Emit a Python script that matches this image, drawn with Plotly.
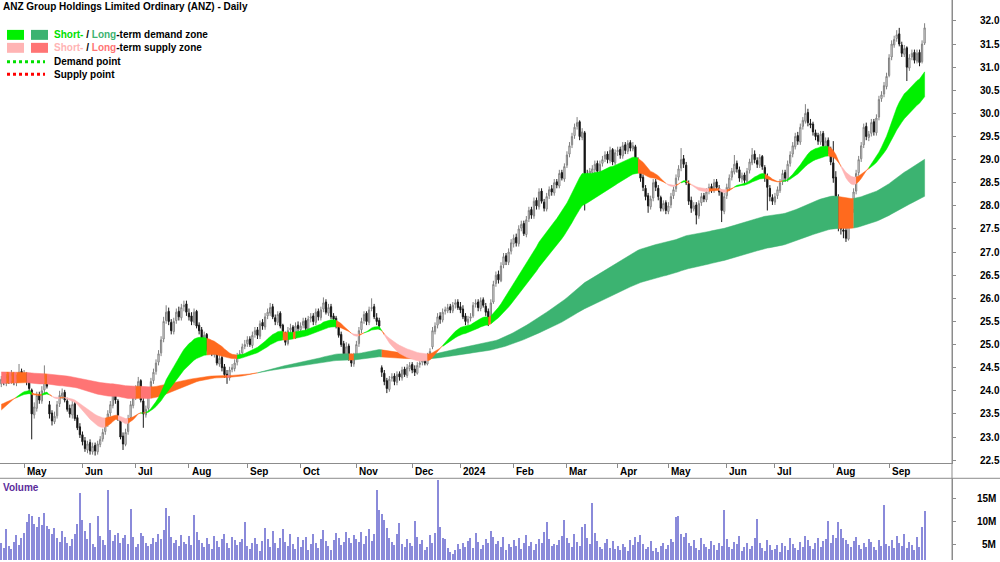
import numpy as np
import pandas as pd
import plotly.graph_objects as go

# ---------------- data ----------------
HOLIDAYS = ["2023-04-25", "2023-06-12", "2023-12-25", "2023-12-26", "2024-01-01",
            "2024-01-26", "2024-03-29", "2024-04-01", "2024-04-25", "2024-06-10"]

OPEN = [
    24.15, 24.26, 24.16, 24.32, 24.20, 24.36, 24.18, 24.27, 24.42,
    24.28, 24.36, 24.18, 24.02, 23.48, 23.62, 23.92, 23.78, 24.02, 24.32, 23.70, 23.52, 23.33, 23.46, 23.72, 23.88, 23.97, 23.78, 23.62, 23.48, 23.72, 23.42, 23.22,
    23.05, 22.92, 22.72, 22.88, 22.68, 22.82, 22.68, 22.84, 22.96, 23.12, 23.28, 23.52, 23.68, 23.96, 23.78, 23.38, 23.02, 22.84, 23.12, 23.42, 23.68,
    23.86, 24.04, 24.22, 23.78, 23.48, 23.62, 23.92, 24.22, 24.42, 24.62, 24.82, 25.12, 25.52, 25.72, 25.48, 25.28, 25.52, 25.72, 25.58, 25.82, 25.88,
    25.68, 25.62, 25.48, 25.72, 25.42, 25.32, 25.08, 25.22, 24.88, 25.02, 24.78, 24.86, 24.58, 24.72, 24.52, 24.36, 24.28, 24.46, 24.48, 24.62, 24.76, 24.82, 24.96,
    25.02, 25.12, 24.98, 25.22, 25.32, 25.18, 25.48, 25.38, 25.62, 25.68, 25.82, 25.58, 25.48, 25.68, 25.42, 25.22, 25.02, 25.32, 25.38, 25.18, 25.42,
    25.32, 25.42, 25.52, 25.33, 25.57, 25.62, 25.48, 25.72, 25.58, 25.77, 25.92, 25.68, 25.82, 25.62, 25.57, 25.42, 25.22, 25.02, 24.78, 24.97, 24.72, 24.58,
    24.78, 25.02, 25.32, 25.52, 25.68, 25.48, 25.78, 25.82, 25.58, 25.52, 24.50, 24.38, 24.22, 24.03, 24.27, 24.32, 24.18, 24.37, 24.28, 24.47, 24.33, 24.48,
    24.57, 24.47, 24.38, 24.57, 24.62, 24.67, 24.58, 24.77, 24.95, 25.28, 25.42, 25.62, 25.53, 25.72, 25.73, 25.82, 25.73, 25.87, 25.92,
    25.82, 25.77, 25.62, 25.48, 25.57, 25.62, 25.87, 25.92, 25.78, 25.97, 25.83, 25.72, 25.52, 25.92, 26.32, 26.52, 26.38, 26.72, 26.92, 26.78, 27.02,
    27.18, 27.32, 27.18, 27.52, 27.62, 27.38, 27.72, 27.92, 27.78, 28.12, 27.98, 28.32, 28.08, 27.93, 28.22, 28.37, 28.28, 28.52, 28.43, 28.72, 28.58,
    28.88, 29.12, 29.32, 29.52, 29.72, 29.82, 29.48, 29.58, 28.68, 28.58, 28.72, 28.78, 28.92, 28.73, 28.92, 29.02, 29.12, 28.98, 29.22, 28.93,
    29.17, 29.22, 29.08, 29.32, 29.18, 29.37, 29.23, 29.28, 28.98, 28.83, 28.62, 28.38, 28.22, 27.98, 28.17, 28.52, 28.38, 28.18, 27.93, 28.07,
    27.88, 28.02, 28.22, 28.37, 28.62, 28.82, 29.02, 28.88, 28.48, 28.12, 27.93, 28.02, 27.78, 28.07, 28.22, 28.13, 28.32, 28.42, 28.33, 28.52, 28.38, 28.32, 27.88,
    28.22, 28.38, 28.62, 28.73, 28.92, 28.78, 28.58, 28.67, 28.53, 28.77, 28.93, 29.12, 28.98, 28.88, 29.07, 28.83, 28.62, 28.38, 28.18,
    28.08, 28.22, 28.33, 28.52, 28.72, 28.58, 28.92, 29.12, 29.28, 29.52, 29.38, 29.72, 29.83, 30.02, 29.78, 29.77, 29.58, 29.52, 29.38, 29.57, 29.28, 29.42, 29.22,
    28.93, 28.62, 28.18, 27.62, 27.48, 27.47, 27.28, 27.72, 27.92, 28.32, 28.72, 29.02, 29.32, 29.72, 29.48, 29.57, 29.82, 29.58, 29.92, 30.32, 30.42, 30.58,
    30.82, 31.22, 31.48, 31.62, 31.72, 31.48, 31.28, 31.42, 30.98, 31.22, 31.32, 31.13, 31.32, 31.12, 31.52,
]
HIGH = [
    24.32, 24.30, 24.36, 24.38, 24.45, 24.40, 24.35, 24.58, 24.48,
    24.45, 24.40, 24.25, 24.05, 23.75, 23.98, 23.98, 24.10, 24.55, 24.35, 23.78, 23.58, 23.55, 23.78, 24.00, 24.05, 24.02, 23.85, 23.70, 23.80, 23.78, 23.48, 23.30,
    23.12, 23.00, 22.92, 22.95, 22.88, 22.88, 22.92, 23.02, 23.18, 23.38, 23.58, 23.78, 24.05, 24.02, 23.82, 23.42, 23.10, 23.18, 23.48, 23.78, 23.95,
    24.12, 24.30, 24.25, 23.85, 23.68, 23.98, 24.28, 24.48, 24.68, 24.88, 25.18, 25.60, 25.85, 25.80, 25.55, 25.58, 25.78, 25.82, 25.88, 25.95, 25.95,
    25.78, 25.70, 25.78, 25.75, 25.48, 25.38, 25.28, 25.25, 25.08, 25.05, 24.95, 24.90, 24.78, 24.78, 24.58, 24.45, 24.52, 24.58, 24.68, 24.82, 24.88, 25.02, 25.10,
    25.18, 25.18, 25.28, 25.38, 25.38, 25.52, 25.55, 25.68, 25.78, 25.90, 25.88, 25.65, 25.72, 25.72, 25.45, 25.28, 25.38, 25.45, 25.42, 25.48, 25.50,
    25.48, 25.58, 25.58, 25.62, 25.68, 25.68, 25.78, 25.78, 25.82, 26.02, 25.98, 25.88, 25.88, 25.68, 25.62, 25.48, 25.28, 25.08, 25.05, 25.02, 24.80, 24.82,
    25.08, 25.38, 25.58, 25.72, 25.72, 25.82, 26.00, 25.88, 25.68, 25.58, 24.55, 24.45, 24.28, 24.32, 24.38, 24.38, 24.42, 24.42, 24.52, 24.52, 24.58, 24.62,
    24.62, 24.55, 24.62, 24.68, 24.72, 24.72, 24.82, 24.92, 25.38, 25.48, 25.68, 25.70, 25.78, 25.82, 25.88, 25.88, 25.92, 25.98, 25.98,
    25.92, 25.85, 25.68, 25.62, 25.68, 25.92, 25.98, 25.98, 26.02, 26.02, 25.90, 25.78, 25.98, 26.38, 26.58, 26.60, 26.78, 26.98, 26.98, 27.08, 27.28,
    27.38, 27.40, 27.58, 27.68, 27.68, 27.78, 27.98, 27.98, 28.18, 28.18, 28.38, 28.38, 28.15, 28.28, 28.42, 28.45, 28.58, 28.58, 28.78, 28.78, 28.92,
    29.18, 29.38, 29.58, 29.78, 29.92, 29.85, 29.68, 29.62, 28.78, 28.82, 28.88, 28.98, 28.98, 28.98, 29.08, 29.18, 29.18, 29.28, 29.25, 29.22,
    29.28, 29.28, 29.38, 29.38, 29.42, 29.42, 29.38, 29.32, 29.05, 28.90, 28.68, 28.45, 28.28, 28.22, 28.58, 28.58, 28.45, 28.22, 28.12, 28.12,
    28.08, 28.28, 28.42, 28.68, 28.88, 29.25, 29.10, 28.95, 28.55, 28.20, 28.08, 28.08, 28.12, 28.28, 28.28, 28.38, 28.48, 28.48, 28.58, 28.58, 28.45, 28.35, 28.28,
    28.48, 28.68, 28.82, 29.10, 28.98, 28.85, 28.72, 28.72, 28.82, 29.02, 29.25, 29.20, 29.05, 29.12, 29.10, 28.88, 28.70, 28.45, 28.25,
    28.28, 28.42, 28.58, 28.78, 28.78, 28.98, 29.18, 29.38, 29.58, 29.60, 29.78, 29.92, 30.20, 30.10, 29.88, 29.82, 29.65, 29.58, 29.62, 29.62, 29.48, 29.48, 29.28,
    29.40, 28.75, 28.25, 27.85, 27.62, 27.55, 27.78, 27.98, 28.38, 28.78, 29.08, 29.38, 29.78, 29.80, 29.62, 29.88, 29.88, 29.98, 30.38, 30.48, 30.68, 30.88,
    31.28, 31.58, 31.68, 31.80, 31.85, 31.55, 31.48, 31.45, 31.28, 31.38, 31.38, 31.38, 31.38, 31.58, 31.95,
]
LOW = [
    24.08, 24.12, 24.10, 24.15, 24.15, 24.12, 24.10, 24.22, 24.22,
    24.20, 24.12, 23.98, 22.95, 23.40, 23.55, 23.72, 23.72, 23.95, 24.05, 23.40, 23.25, 23.28, 23.40, 23.65, 23.82, 23.75, 23.55, 23.42, 23.40, 23.35, 23.15, 22.98,
    22.82, 22.68, 22.65, 22.62, 22.62, 22.60, 22.62, 22.78, 22.90, 23.05, 23.22, 23.45, 23.62, 23.72, 23.35, 22.95, 22.72, 22.80, 23.05, 23.35, 23.62,
    23.80, 23.98, 23.75, 23.20, 23.42, 23.55, 23.85, 24.15, 24.35, 24.55, 24.75, 25.05, 25.45, 25.42, 25.22, 25.22, 25.45, 25.52, 25.52, 25.72, 25.62,
    25.52, 25.42, 25.42, 25.35, 25.22, 25.02, 25.02, 24.85, 24.82, 24.75, 24.72, 24.55, 24.52, 24.42, 24.28, 24.15, 24.22, 24.40, 24.42, 24.55, 24.70, 24.75, 24.90,
    24.95, 24.95, 24.92, 25.15, 25.12, 25.12, 25.32, 25.32, 25.55, 25.62, 25.55, 25.42, 25.42, 25.35, 25.15, 24.98, 24.98, 25.25, 25.15, 25.12, 25.28,
    25.25, 25.35, 25.28, 25.28, 25.48, 25.42, 25.42, 25.52, 25.52, 25.70, 25.65, 25.62, 25.55, 25.48, 25.35, 25.15, 24.95, 24.72, 24.72, 24.65, 24.52, 24.52,
    24.72, 24.95, 25.25, 25.45, 25.42, 25.42, 25.72, 25.55, 25.42, 25.32, 24.30, 24.12, 23.95, 23.98, 24.20, 24.12, 24.12, 24.22, 24.22, 24.30, 24.28, 24.42,
    24.38, 24.32, 24.35, 24.50, 24.55, 24.55, 24.55, 24.72, 24.90, 25.22, 25.35, 25.45, 25.48, 25.65, 25.68, 25.68, 25.68, 25.78, 25.75,
    25.68, 25.55, 25.42, 25.42, 25.50, 25.58, 25.80, 25.72, 25.72, 25.80, 25.62, 25.40, 25.48, 25.88, 26.25, 26.32, 26.35, 26.65, 26.72, 26.72, 26.95,
    27.10, 27.12, 27.12, 27.45, 27.35, 27.32, 27.65, 27.72, 27.72, 27.92, 27.92, 28.05, 27.88, 27.88, 28.15, 28.22, 28.22, 28.38, 28.38, 28.55, 28.52,
    28.82, 29.05, 29.25, 29.45, 29.65, 29.42, 29.42, 27.90, 28.30, 28.50, 28.65, 28.70, 28.62, 28.65, 28.85, 28.95, 28.92, 28.92, 28.88, 28.88,
    29.08, 29.02, 29.02, 29.12, 29.12, 29.18, 29.18, 28.92, 28.78, 28.52, 28.32, 28.12, 27.85, 27.92, 28.10, 28.32, 28.12, 27.88, 27.88, 27.82,
    27.82, 27.95, 28.15, 28.30, 28.55, 28.75, 28.82, 28.45, 28.02, 27.85, 27.88, 27.60, 27.72, 28.00, 28.08, 28.08, 28.25, 28.28, 28.28, 28.35, 28.22, 27.65, 27.82,
    28.15, 28.32, 28.55, 28.68, 28.72, 28.52, 28.50, 28.48, 28.48, 28.70, 28.88, 28.92, 28.82, 28.82, 28.78, 28.52, 27.90, 28.10, 28.02,
    28.02, 28.15, 28.28, 28.45, 28.52, 28.52, 28.85, 29.05, 29.22, 29.32, 29.32, 29.65, 29.78, 29.72, 29.68, 29.52, 29.42, 29.32, 29.32, 29.25, 29.22, 29.12, 28.88,
    28.50, 28.15, 27.45, 27.38, 27.30, 27.22, 27.25, 27.65, 27.85, 28.25, 28.65, 28.95, 29.25, 29.42, 29.40, 29.50, 29.52, 29.52, 29.85, 30.25, 30.35, 30.52,
    30.78, 31.15, 31.42, 31.55, 31.45, 31.22, 31.22, 30.70, 30.92, 31.15, 31.08, 31.08, 31.02, 31.08, 31.48,
]
CLOSE = [
    24.25, 24.18, 24.30, 24.22, 24.35, 24.20, 24.28, 24.40, 24.30,
    24.35, 24.20, 24.05, 23.50, 23.65, 23.90, 23.80, 24.00, 24.30, 24.10, 23.50, 23.35, 23.45, 23.70, 23.90, 23.95, 23.80, 23.60, 23.50, 23.70, 23.40, 23.20, 23.05,
    22.90, 22.75, 22.85, 22.70, 22.80, 22.70, 22.85, 22.95, 23.10, 23.30, 23.50, 23.70, 23.95, 23.80, 23.40, 23.00, 22.85, 23.10, 23.40, 23.70, 23.85,
    24.05, 24.20, 23.80, 23.50, 23.60, 23.90, 24.20, 24.40, 24.60, 24.80, 25.10, 25.50, 25.70, 25.50, 25.30, 25.50, 25.70, 25.60, 25.80, 25.85, 25.70,
    25.60, 25.50, 25.70, 25.40, 25.30, 25.10, 25.20, 24.90, 25.00, 24.80, 24.85, 24.60, 24.70, 24.50, 24.35, 24.30, 24.45, 24.50, 24.60, 24.75, 24.80, 24.95, 25.00,
    25.10, 25.00, 25.20, 25.30, 25.20, 25.45, 25.40, 25.60, 25.70, 25.80, 25.60, 25.50, 25.65, 25.40, 25.20, 25.05, 25.30, 25.35, 25.20, 25.40, 25.35,
    25.40, 25.50, 25.35, 25.55, 25.60, 25.50, 25.70, 25.60, 25.75, 25.90, 25.70, 25.80, 25.60, 25.55, 25.40, 25.20, 25.00, 24.80, 24.95, 24.70, 24.60, 24.75,
    25.00, 25.30, 25.50, 25.65, 25.50, 25.75, 25.80, 25.60, 25.50, 25.40, 24.40, 24.20, 24.05, 24.25, 24.30, 24.20, 24.35, 24.30, 24.45, 24.35, 24.50, 24.55,
    24.45, 24.40, 24.55, 24.60, 24.65, 24.60, 24.75, 24.85, 25.30, 25.40, 25.60, 25.55, 25.70, 25.75, 25.80, 25.75, 25.85, 25.90, 25.80,
    25.75, 25.60, 25.50, 25.55, 25.60, 25.85, 25.90, 25.80, 25.95, 25.85, 25.70, 25.50, 25.90, 26.30, 26.50, 26.40, 26.70, 26.90, 26.80, 27.00, 27.20,
    27.30, 27.20, 27.50, 27.60, 27.40, 27.70, 27.90, 27.80, 28.10, 28.00, 28.30, 28.10, 27.95, 28.20, 28.35, 28.30, 28.50, 28.45, 28.70, 28.60, 28.85,
    29.10, 29.30, 29.50, 29.70, 29.80, 29.50, 29.60, 28.70, 28.60, 28.75, 28.80, 28.90, 28.75, 28.90, 29.00, 29.10, 29.00, 29.20, 28.95, 29.15,
    29.20, 29.10, 29.30, 29.20, 29.35, 29.25, 29.30, 29.00, 28.85, 28.60, 28.40, 28.20, 28.00, 28.15, 28.50, 28.40, 28.20, 27.95, 28.05, 27.90,
    28.00, 28.20, 28.35, 28.60, 28.80, 29.00, 28.90, 28.50, 28.10, 27.95, 28.00, 27.80, 28.05, 28.20, 28.15, 28.30, 28.40, 28.35, 28.50, 28.40, 28.30, 27.90, 28.20,
    28.40, 28.60, 28.75, 28.90, 28.80, 28.60, 28.65, 28.55, 28.75, 28.95, 29.10, 29.00, 28.90, 29.05, 28.85, 28.60, 28.40, 28.20, 28.10,
    28.20, 28.35, 28.50, 28.70, 28.60, 28.90, 29.10, 29.30, 29.50, 29.40, 29.70, 29.85, 30.00, 29.80, 29.75, 29.60, 29.50, 29.40, 29.55, 29.30, 29.40, 29.20, 28.95,
    28.60, 28.20, 27.60, 27.50, 27.45, 27.30, 27.70, 27.90, 28.30, 28.70, 29.00, 29.30, 29.70, 29.50, 29.55, 29.80, 29.60, 29.90, 30.30, 30.40, 30.60, 30.80,
    31.20, 31.50, 31.60, 31.70, 31.50, 31.30, 31.40, 31.00, 31.20, 31.30, 31.15, 31.30, 31.10, 31.50, 31.85,
]
VOLUME_M = [
    5.2, 4.1, 8.3, 4.6, 3.9, 5.5, 7.0, 4.8, 6.2,
    7.5, 9.8, 11.5, 11.2, 9.4, 8.7, 11.0, 9.2, 11.8, 9.0, 8.2, 7.1, 8.6, 6.2, 5.4, 7.8, 6.6, 5.1, 4.6, 6.0, 7.2, 9.4, 16.2,
    10.2, 7.8, 6.1, 9.6, 5.0, 4.4, 11.2, 6.8, 5.9, 4.7, 16.8, 8.1, 5.6, 6.9, 7.5, 5.2, 6.4, 7.0, 4.9, 12.6, 6.5,
    4.2, 5.0, 7.4, 6.8, 5.3, 4.5, 4.9, 6.2, 5.5, 7.1, 6.0, 8.0, 13.0, 11.2, 6.5, 5.2, 5.8, 4.6, 6.9, 5.4, 5.0,
    6.7, 4.8, 11.3, 7.6, 5.9, 5.1, 4.2, 6.3, 5.0, 3.9, 6.8, 5.6, 4.4, 6.1, 7.2, 5.3, 4.1, 6.6, 5.8, 4.7, 5.5, 6.0, 9.8,
    4.6, 3.8, 5.2, 6.4, 4.9, 3.5, 5.7, 8.4, 6.0, 4.3, 7.9, 5.1, 4.0, 6.2, 8.2, 5.4, 4.6, 7.1, 5.0, 3.9, 6.5,
    4.4, 5.8, 6.6, 3.7, 4.9, 7.2, 5.3, 4.1, 6.0, 8.1, 5.7, 4.5, 3.6, 5.9, 7.4, 6.2, 4.8, 5.5, 7.7, 6.3, 5.1, 7.0,
    6.1, 5.4, 7.6, 4.9, 6.8, 8.3, 5.7, 7.1, 17.0, 12.4, 11.6, 10.2, 8.4, 6.3, 5.5, 4.8, 7.2, 9.6, 5.0, 4.3, 6.1, 5.2,
    4.6, 10.0, 6.5, 4.9, 5.8, 3.7, 4.4, 6.9, 5.2, 7.3, 19.2, 8.8, 6.4, 6.0, 4.1, 3.2, 2.8, 3.6, 5.0,
    3.9, 5.1, 4.3, 5.6, 6.2, 4.0, 7.3, 5.4, 3.8, 4.7, 6.0, 5.2, 7.8, 6.6, 4.9, 5.7, 4.2, 6.5, 3.6, 5.0, 4.4,
    5.8, 4.5, 6.3, 3.9, 5.2, 7.0, 4.6, 5.5, 3.7, 4.9, 6.1, 5.3, 7.6, 9.8, 6.0, 4.5, 5.0, 4.8, 5.9, 6.7, 10.2,
    6.4, 5.1, 4.3, 7.2, 5.5, 4.6, 8.8, 9.3, 6.2, 5.0, 14.0, 7.4, 5.7, 4.4, 3.9, 5.2, 6.0, 4.1, 5.6, 3.8,
    4.5, 3.6, 5.0, 4.2, 3.4, 5.8, 4.7, 6.6, 5.4, 7.0, 4.9, 3.8, 4.3, 5.6, 3.5, 4.0, 3.2, 4.6, 5.1, 3.9,
    4.8, 6.1, 5.5, 11.0, 11.1, 7.2, 6.5, 7.4, 5.2, 4.6, 5.8, 4.1, 3.7, 6.3, 5.0, 4.4, 3.9, 5.7, 4.8, 3.6, 5.3, 4.5, 12.5,
    6.0, 4.4, 3.8, 5.5, 4.9, 6.7, 3.5, 4.2, 5.1, 3.9, 4.6, 6.2, 10.5, 5.3, 4.0, 3.4, 5.8, 4.7, 3.6,
    3.9, 4.8, 3.3, 5.2, 4.5, 3.7, 6.4, 5.0, 4.1, 3.6, 5.5, 4.3, 6.8, 5.9, 4.6, 3.8, 5.1, 6.2, 4.4, 5.7, 6.1, 10.0, 5.3,
    7.0, 6.3, 9.9, 8.2, 6.4, 5.8, 4.9, 4.2, 5.6, 6.5, 4.8, 3.9, 5.3, 4.4, 6.0, 5.5, 4.2, 3.7, 5.8, 4.6, 13.6, 5.0,
    4.5, 5.9, 4.1, 6.8, 5.2, 4.6, 7.1, 4.0, 5.5, 4.8, 3.6, 6.6, 4.2, 8.7, 12.2,
]

# moving-average zone settings (fast / slow EMA periods and their starting values)
SHORT_PERIODS = (22, 40)
LONG_PERIODS = (140, 230)
SHORT_SEED = (23.52, 23.68)
LONG_SEED = (24.16, 24.41)

PRICE_TICKS = [22.5 + 0.5 * k for k in range(20)]
VOL_TICKS = [5, 10, 15]
VOL_TICK_TEXT = ["5M", "10M", "15M"]

# colours
C_SHORT_DEM = "#00F000"
C_LONG_DEM = "#3CB371"
C_SHORT_SUP = "#FFB4B4"
C_LONG_SUP = "#FF7474"
C_MIXED = "#FF6A1E"
AXIS_GREY = "#8C8C8C"

# ---------------- derived ----------------
dates = pd.bdate_range("2023-04-17", "2024-09-20")
dates = dates[~dates.isin(pd.to_datetime(HOLIDAYS))]
n = len(CLOSE)
for name, arr in [("OPEN", OPEN), ("HIGH", HIGH), ("LOW", LOW), ("VOLUME", VOLUME_M)]:
    if len(arr) != n:
        raise ValueError(f"{name} has {len(arr)} values, CLOSE has {n}")
if len(dates) != n:
    raise ValueError(f"dates {len(dates)} vs {n}")

idx = np.arange(n)
close = np.array(CLOSE)


def ema(vals, period, seed):
    a = 2.0 / (period + 1)
    out, prev = [], seed
    for v in vals:
        prev = prev + a * (v - prev)
        out.append(prev)
    return np.array(out)


def band_traces(fast, slow, seeds, c_dem, c_sup):
    mid = (fast + slow) / 2
    prev = np.concatenate([[(seeds[0] + seeds[1]) / 2], mid[:-1]])
    rising = mid >= prev
    up = fast >= slow
    state = np.where(up & rising, 0, np.where(~up & ~rising, 1, 2))
    colours = {0: c_dem, 1: c_sup, 2: C_MIXED}
    traces = []
    s = 0
    while s < n:
        e = s
        while e + 1 < n and state[e + 1] == state[s]:
            e += 1
        e2 = min(e + 1, n - 1)
        xs = list(idx[s:e2 + 1]) + list(idx[s:e2 + 1][::-1])
        ys = list(fast[s:e2 + 1]) + list(slow[s:e2 + 1][::-1])
        if e2 == s:
            xs = [s - 0.5, s + 0.5, s + 0.5, s - 0.5]
            ys = [fast[s], fast[s], slow[s], slow[s]]
        col = colours[int(state[s])]
        traces.append(go.Scatter(x=xs, y=ys, mode="lines", fill="toself", fillcolor=col,
                                 line=dict(width=0.5, color=col), hoverinfo="skip",
                                 showlegend=False))
        s = e + 1
    return traces


s_fast = ema(close, SHORT_PERIODS[0], SHORT_SEED[0])
s_slow = ema(close, SHORT_PERIODS[1], SHORT_SEED[1])
l_fast = ema(close, LONG_PERIODS[0], LONG_SEED[0])
l_slow = ema(close, LONG_PERIODS[1], LONG_SEED[1])

fig = go.Figure()
for t in band_traces(l_fast, l_slow, LONG_SEED, C_LONG_DEM, C_LONG_SUP):
    fig.add_trace(t)
for t in band_traces(s_fast, s_slow, SHORT_SEED, C_SHORT_DEM, C_SHORT_SUP):
    fig.add_trace(t)

fig.add_trace(go.Candlestick(
    x=idx, open=OPEN, high=HIGH, low=LOW, close=CLOSE,
    increasing=dict(line=dict(color="#808080", width=1), fillcolor="#FFFFFF"),
    decreasing=dict(line=dict(color="#1A1A1A", width=1), fillcolor="#000000"),
    whiskerwidth=0, showlegend=False, hoverinfo="skip"))

fig.add_trace(go.Bar(x=idx, y=np.array(VOLUME_M) * 1e6, yaxis="y2", width=0.45,
                     marker=dict(color="#8A8ADA", line=dict(width=0)),
                     showlegend=False, hoverinfo="skip"))

# month ticks
month_idx, month_txt = [], []
for i in range(1, n):
    if dates[i].month != dates[i - 1].month:
        month_idx.append(i)
        month_txt.append(str(dates[i].year) if dates[i].month == 1 else dates[i].strftime("%b"))

W, H = 1000, 562
PLOT_W = 952
FONT = "Arial, 'Liberation Sans', sans-serif"


def px(xp):
    return xp / PLOT_W


def py(yp):
    return 1 - yp / H


# price axis geometry: 32.0 at y=21 px, 46.4 px per unit, panel ends at y=465
p_top = 32 + 21 / 46.4
p_bot = 32 - (465 - 21) / 46.4
# volume axis geometry: 15M at y=500.7, 4.54 px per million, panel 480..562
v_top = (15 + (500.7 - 480) / 4.54) * 1e6
v_bot = (15 - (562 - 500.7) / 4.54) * 1e6

fig.update_layout(
    width=W, height=H, margin=dict(l=0, r=W - PLOT_W, t=0, b=0),
    paper_bgcolor="white", plot_bgcolor="white", showlegend=False,
    font=dict(family=FONT, size=10, color="black"),
    bargap=0,
    xaxis=dict(domain=[0, 1], range=[-0.5, 374.8], anchor="y",
               tickvals=month_idx, ticktext=[""] * len(month_idx),
               ticks="outside", ticklen=4, tickcolor=AXIS_GREY,
               showline=True, linecolor=AXIS_GREY, linewidth=1,
               showgrid=False, zeroline=False, rangeslider=dict(visible=False)),
    yaxis=dict(domain=[(H - 465) / H, 1], range=[p_bot, p_top], side="right", anchor="x",
               tickvals=PRICE_TICKS, tickformat=".1f", ticks="outside", ticklen=3,
               tickcolor=AXIS_GREY, showline=True, linecolor=AXIS_GREY,
               showgrid=False, zeroline=False, ticklabelstandoff=22,
               tickfont=dict(size=10, weight="bold", family=FONT)),
    yaxis2=dict(domain=[0, (H - 480) / H], range=[v_bot, v_top], side="right", anchor="x",
                tickvals=[v * 1e6 for v in VOL_TICKS], showticklabels=False,
                ticks="outside", ticklen=3, tickcolor=AXIS_GREY,
                showline=True, linecolor=AXIS_GREY, showgrid=False, zeroline=False),
)

shapes = [
    dict(type="line", xref="paper", yref="paper", x0=0, x1=W / PLOT_W, y0=py(480), y1=py(480),
         line=dict(color=AXIS_GREY, width=1)),
    dict(type="line", xref="paper", yref="paper", x0=1, x1=1, y0=0, y1=1,
         line=dict(color=AXIS_GREY, width=1)),
    # legend swatches
    dict(type="rect", xref="paper", yref="paper", x0=px(7), x1=px(24), y0=py(40), y1=py(30),
         fillcolor=C_SHORT_DEM, line=dict(width=0)),
    dict(type="rect", xref="paper", yref="paper", x0=px(31), x1=px(48), y0=py(40), y1=py(30),
         fillcolor=C_LONG_DEM, line=dict(width=0)),
    dict(type="rect", xref="paper", yref="paper", x0=px(7), x1=px(24), y0=py(53), y1=py(43),
         fillcolor=C_SHORT_SUP, line=dict(width=0)),
    dict(type="rect", xref="paper", yref="paper", x0=px(31), x1=px(48), y0=py(53), y1=py(43),
         fillcolor=C_LONG_SUP, line=dict(width=0)),
    dict(type="line", xref="paper", yref="paper", x0=px(7), x1=px(45), y0=py(62), y1=py(62),
         line=dict(color="#00E000", width=3, dash="dot")),
    dict(type="line", xref="paper", yref="paper", x0=px(7), x1=px(45), y0=py(74.5), y1=py(74.5),
         line=dict(color="#FF0000", width=3, dash="dot")),
]
fig.update_layout(shapes=shapes)

ann = []


def add_text(x, y, text, size=10, color="black", xanchor="left", xref="paper", yref="paper"):
    ann.append(dict(x=x, y=y, xref=xref, yref=yref, text=text, showarrow=False,
                    xanchor=xanchor, yanchor="middle", font=dict(size=size, color=color, family=FONT),
                    borderpad=0))


add_text(px(2), py(7), "<b>ANZ Group Holdings Limited Ordinary (ANZ) - Daily</b>")
add_text(px(53), py(35), "<b><span style='color:#00E000'>Short-</span> / "
                         "<span style='color:#3CB371'>Long</span>-term demand zone</b>")
add_text(px(53), py(48), "<b><span style='color:#FFB4B4'>Short-</span> / "
                         "<span style='color:#FF7474'>Long</span>-term supply zone</b>")
add_text(px(53), py(62), "<b>Demand point</b>")
add_text(px(53), py(75), "<b>Supply point</b>")
add_text(px(2), py(489), "<b>Volume</b>", color="#5B2C9B")
for mi, mt in zip(month_idx, month_txt):
    add_text(mi + 0.6, py(473), f"<b>{mt}</b>", xref="x")
for v, t in zip(VOL_TICKS, VOL_TICK_TEXT):
    add_text(997 / PLOT_W, v * 1e6, f"<b>{t}</b>", xanchor="right", yref="y2")
fig.update_layout(annotations=ann)

fig.write_html("out.html")
